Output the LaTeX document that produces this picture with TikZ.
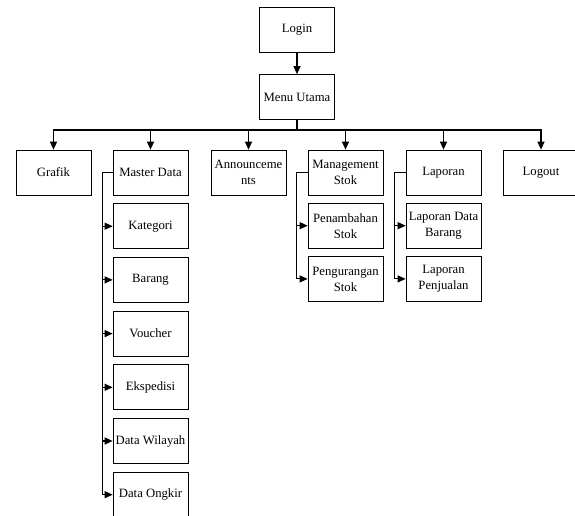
\documentclass[tikz,border=0pt]{standalone}
\usepackage{fontspec}
\setmainfont{Liberation Serif}
\usetikzlibrary{positioning,arrows.meta}

\tikzset{
    menubox/.style={draw, line width=0.7pt, minimum width=75pt, minimum height=45pt,
        inner sep=1pt, align=center, font=\fontsize{12.7}{16}\selectfont},
    link/.style={line width=1.1pt, -{Triangle[width=7pt,length=8pt]}},
    bar/.style={line width=1.1pt}
}

\begin{document}
\begin{tikzpicture}[x=1pt, y=-1pt]
    \useasboundingbox (0,0) rectangle (575,515);
    \clip (0,0) rectangle (575,515);

    % Top
    \node[menubox] (login) at (297,30) {Login};
    \node[menubox] (menu) at (297,97) {Menu Utama};
    \coordinate (bus) at (297,130);

    % Main row
    \node[menubox] (grafik) at (53.5,172.5) {Grafik};
    \node[menubox] (master) at (150.5,172.5) {Master Data};
    \node[menubox] (announce) at (248.5,172.5) {Announceme\\nts};
    \node[menubox] (stok) at (345.5,172.5) {Management\\Stok};
    \node[menubox] (laporan) at (443.5,172.5) {Laporan};
    \node[menubox] (logout) at (541,172.5) {Logout};

    % Master Data children
    \node[menubox, below=8pt of master] (kategori) {Kategori};
    \node[menubox, below=8pt of kategori] (barang) {Barang};
    \node[menubox, below=8pt of barang] (voucher) {Voucher};
    \node[menubox, below=8pt of voucher] (ekspedisi) {Ekspedisi};
    \node[menubox, below=8pt of ekspedisi] (wilayah) {Data Wilayah};
    \node[menubox, below=8pt of wilayah] (ongkir) {Data Ongkir};

    % Management Stok children
    \node[menubox, below=7.5pt of stok] (tambah) {Penambahan\\Stok};
    \node[menubox, below=7.5pt of tambah] (kurang) {Pengurangan\\Stok};

    % Laporan children
    \node[menubox, below=7.5pt of laporan] (lapbarang) {Laporan Data\\Barang};
    \node[menubox, below=7.5pt of lapbarang] (lapjual) {Laporan\\Penjualan};

    % Connectors
    \draw[link] (login) -- (menu);
    \draw[bar] (menu.south) -- (bus);
    \foreach \n in {grafik, master, announce, stok, laporan, logout}
        \draw[link] (bus) -| (\n.north);

    \foreach \n in {kategori, barang, voucher, ekspedisi, wilayah, ongkir}
        \draw[link] (master.west) -- ++(-10,0) |- (\n.west);
    \foreach \n in {tambah, kurang}
        \draw[link] (stok.west) -- ++(-11,0) |- (\n.west);
    \foreach \n in {lapbarang, lapjual}
        \draw[link] (laporan.west) -- ++(-11,0) |- (\n.west);
\end{tikzpicture}
\end{document}
